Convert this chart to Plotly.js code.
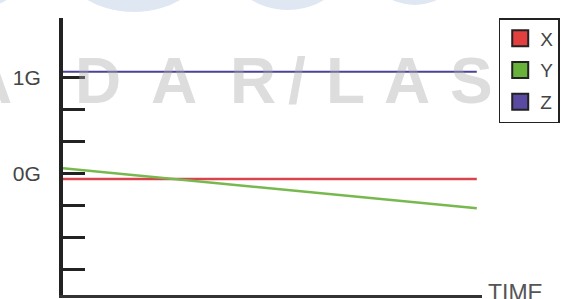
<!DOCTYPE html>
<html>
<head>
<meta charset="utf-8">
<script src="https://cdn.plot.ly/plotly-3.0.1.min.js"></script>
<style>html,body{margin:0;padding:0;background:#fff;}#chart{width:564px;height:299px;}</style>
</head>
<body>
<div id="chart"></div>
<script>
// ---- data ----
var seriesNames = ['X', 'Y', 'Z'];
var time = [0, 10];
var xValues = [-0.06, -0.06];
var yValues = [0.052, -0.365];
var zValues = [1.058, 1.058];
var tickVals = [1, 2/3, 1/3, 0, -1/3, -2/3, -1];
var tickText = ['1G', '', '', '0G', '', '', ''];
var xAxisLabel = 'TIME';
var watermarkLetters = ['A', 'D', 'A', 'R', '/', 'L', 'A', 'S'];

// ---- styling ----
var lineColors = ['#d9434b', '#77b94f', '#4c4394'];
var legendColors = ['#e23f3f', '#68b23c', '#5a4aa2'];
var lineWidths = [2.5, 2.5, 2];
var wmCenters = [-12, 99, 176, 256, 301, 350, 413, 478];

var L = 63, R = 489, T = 18, B = 295;
function px(X) { return (X - L) / (R - L); }
function py(Y) { return (B - Y) / (B - T); }

var values = [xValues, yValues, zValues];
var traces = [];
for (var i = 0; i < 3; i++) {
  traces.push({
    type: 'scatter', mode: 'lines', x: time, y: values[i],
    line: {color: lineColors[i], width: lineWidths[i]},
    showlegend: false, hoverinfo: 'skip'
  });
}
for (var j = 0; j < 3; j++) {
  traces.push({
    type: 'scatter', mode: 'markers', x: [null], y: [null], name: seriesNames[j],
    legendgroup: 'g' + j,
    marker: {symbol: 'square', size: 16, color: legendColors[j], line: {color: '#222', width: 2}}
  });
}

var annotations = [];
for (var k = 0; k < watermarkLetters.length; k++) {
  annotations.push({
    text: '<b>' + watermarkLetters[k] + '</b>', xref: 'paper', yref: 'paper',
    x: px(wmCenters[k]), y: py(81), xanchor: 'center', yanchor: 'middle',
    showarrow: false,
    font: {family: 'Liberation Sans', size: 64, color: 'rgba(170,170,170,0.4)'}
  });
}
annotations.push({
  text: xAxisLabel, xref: 'paper', yref: 'paper', x: px(493), y: py(293),
  xanchor: 'left', yanchor: 'middle', showarrow: false,
  font: {family: 'Liberation Sans', size: 23, color: '#555'}
});

var shapes = [
  {type: 'circle', xref: 'paper', yref: 'paper', layer: 'below', x0: px(-60), x1: px(25), y0: py(7), y1: py(-80), fillcolor: '#dfe7f3', line: {width: 0}},
  {type: 'circle', xref: 'paper', yref: 'paper', layer: 'below', x0: px(62), x1: px(208), y0: py(12), y1: py(-90), fillcolor: '#dfe7f3', line: {width: 0}},
  {type: 'circle', xref: 'paper', yref: 'paper', layer: 'below', x0: px(233), x1: px(350), y0: py(10), y1: py(-80), fillcolor: '#dfe7f3', line: {width: 0}},
  {type: 'circle', xref: 'paper', yref: 'paper', layer: 'below', x0: px(373), x1: px(468), y0: py(5), y1: py(-80), fillcolor: '#dfe7f3', line: {width: 0}}
];

var layout = {
  width: 564, height: 299,
  margin: {l: L, r: 564 - R, t: T, b: 299 - B, pad: 0},
  paper_bgcolor: 'rgba(0,0,0,0)', plot_bgcolor: 'rgba(0,0,0,0)',
  font: {family: 'Liberation Sans', color: '#444'},
  xaxis: {
    range: [0, 10.126], showline: true, linewidth: 3, linecolor: '#333',
    showticklabels: false, ticks: '', showgrid: false, zeroline: false, fixedrange: true
  },
  yaxis: {
    range: [-1.268, 1.618], showline: true, linewidth: 4, linecolor: '#222',
    ticks: 'inside', ticklen: 22, tickwidth: 2.5, tickcolor: '#222',
    tickmode: 'array', tickvals: tickVals, ticktext: tickText,
    tickfont: {family: 'Liberation Sans', size: 21, color: '#444'},
    ticklabelstandoff: 14, showgrid: false, zeroline: false, fixedrange: true
  },
  legend: {
    x: px(506), y: 1, xanchor: 'left', yanchor: 'top',
    bgcolor: '#fff', bordercolor: '#222', borderwidth: 1.5,
    font: {family: 'Liberation Sans', size: 19, color: '#444'},
    tracegroupgap: 4, itemwidth: 30
  },
  showlegend: true,
  annotations: annotations,
  shapes: shapes
};

Plotly.newPlot('chart', traces, layout, {displayModeBar: false, staticPlot: true});
</script>
</body>
</html>
